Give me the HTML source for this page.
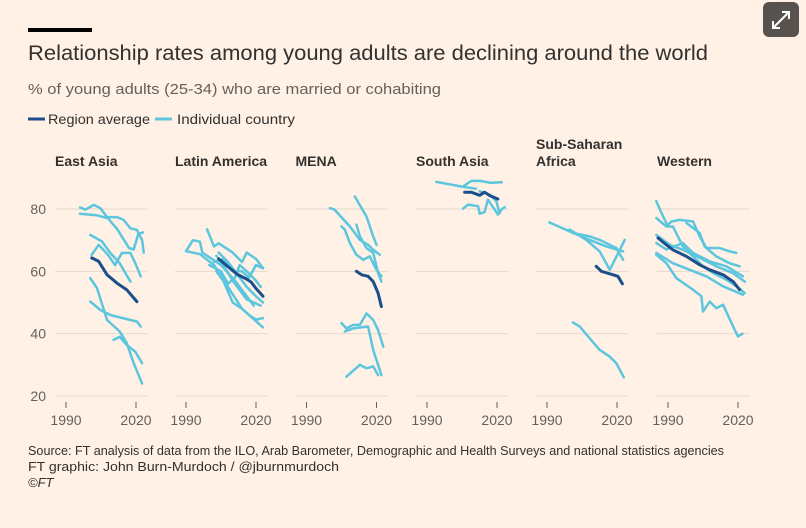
<!DOCTYPE html>
<html><head><meta charset="utf-8"><style>
html,body{margin:0;padding:0;background:#fff1e5;}
svg{display:block;font-family:"Liberation Sans",sans-serif;}
</style></head><body>
<svg id="chart" width="806" height="528" viewBox="0 0 806 528">
<rect x="0" y="0" width="806" height="528" fill="#fff1e5"/>
<rect x="28" y="28" width="64" height="4" fill="#000"/>
<text x="28" y="60" font-size="21" fill="#33302e" textLength="680" lengthAdjust="spacingAndGlyphs">Relationship rates among young adults are declining around the world</text>
<text x="28" y="94" font-size="15" fill="#66605c" textLength="413" lengthAdjust="spacingAndGlyphs">% of young adults (25-34) who are married or cohabiting</text>
<g>
<g>
<line x1="28" y1="119" x2="45" y2="119" stroke="#1c4e8b" stroke-width="3"/>
<text x="48" y="124" font-size="14" fill="#33302e" textLength="102" lengthAdjust="spacingAndGlyphs">Region average</text>
</g>
<g>
<line x1="155" y1="119" x2="172" y2="119" stroke="#5bc6de" stroke-width="3"/>
<text x="177" y="124" font-size="14" fill="#33302e" textLength="118" lengthAdjust="spacingAndGlyphs">Individual country</text>
</g>
</g>
<g id="panels"></g>
<g>
<text x="28" y="455" font-size="13" fill="#33302e" textLength="696" lengthAdjust="spacingAndGlyphs">Source: FT analysis of data from the ILO, Arab Barometer, Demographic and Health Surveys and national statistics agencies</text>
<text x="28" y="471" font-size="13" fill="#33302e" textLength="311" lengthAdjust="spacingAndGlyphs">FT graphic: John Burn-Murdoch / @jburnmurdoch</text>
<text x="28" y="487" font-size="13" font-style="italic" fill="#33302e">©FT</text>
</g>
<g>
<rect x="763" y="2" width="36" height="35" rx="6" fill="#57524d"/>
<path d="M773 28 L789 12 M782 12 L789 12 L789 19 M773 21 L773 28 L780 28" stroke="#fff" stroke-width="2" fill="none"/>
</g>
</svg>
<script>
const regions = ["East Asia","Latin America","MENA","South Asia","Sub-Saharan|Africa","Western"];
const yTicks = [20,40,60,80];
const xTicks = [1990,2020];
// each series: flat [year, value, year, value, ...]
const eastAsiaCountries = [
 [1996,80.5,1998.3,79.8,2001.9,81.3,2004.7,80.3,2007.6,77.4,2011.9,77.4,2014.7,76.5,2017.6,73.8,2020.4,73.3,2022.6,70,2023.3,66],
 [1996,78.5,2003,78,2008,77,2012,73.5,2017,67.5,2019,67,2021,72,2023,72.5],
 [2000.4,71.7,2005.4,69.6,2009,65.9,2013,62.6,2017.6,56.7],
 [2001,65.3,2004,68.5,2008,65.3,2011,62,2014,65.9,2017.6,65.9,2019.7,62.6,2022,58.4],
 [2000.4,57.8,2003.3,54.6,2007.6,44.4,2013,40.7,2016,37,2019,30.5,2022.6,24],
 [2000.4,50.3,2004.7,47.6,2009,46,2017.6,44.4,2020.4,43.9,2022,42.3],
 [2010.4,38,2013,39,2016,36.4,2019.7,34.2,2022.6,30.5]
];
const eastAsiaAvg = [2001,64.3,2004,63.2,2007.6,58.9,2011.9,56.2,2016,54.1,2020.4,50.3];
const latAmCountries = [
 [1990,66.5,1993,70,1996,69.5,1997,66,2005,62,2011,57,2016,52,2019,49],
 [1990,66.5,1996,65.5,2002,62,2008,55,2014,48,2020,44,2023,42],
 [1999,73.5,2002,68,2004,69,2010,66,2014,63,2016,66,2020,64,2023,61],
 [2000,62,2005,60,2008,56,2011,58,2013,62,2016,60,2020,57,2022,55],
 [2003,65,2006,62,2010,57,2013,54,2016,51,2019,50,2022,49],
 [2004,66,2008,63,2012,59,2016,55,2020,52,2023,50],
 [2003,60,2006,57,2010,50,2014,48,2017,46,2020,44.5,2023,45],
 [2002,63,2006,64,2010,60,2014,60,2017,58,2020,62,2023,61]
];
const latAmAvg = [2004,64,2008,61.5,2012,59,2016,57.5,2018,56.5,2020,54.5,2023,52];
const menaCountries = [
 [2000,80.3,2002,79.8,2008.6,74.4,2012.9,70.1,2016.4,68.5,2018.6,66.9,2021.4,65.3],
 [2010.7,84,2015.7,77.6,2018.6,71.2,2020,68.5],
 [2005,74.4,2006.4,73.4,2008.6,69.1,2011.4,65.3,2014.3,63.7,2017.1,64.8,2020,60.5,2022.1,58.4],
 [2011.4,75,2012.9,71.2,2015.7,67.5,2018.6,65.9,2020.7,59.5,2022.1,56.7],
 [2005,43.4,2007.1,41.7,2010,42.8,2012.9,42.8,2015.7,46.5,2018.6,44.4,2020.7,41.2,2022.9,35.8],
 [2006.4,40.7,2010,41.7,2016.4,42.3,2018.6,34.8,2022.1,26.7],
 [2007.1,26.2,2012.9,30,2015.7,28.9,2018.6,29.5,2020.7,26.7]
];
const menaAvg = [2011.4,60,2013.6,58.9,2016.4,58.4,2018.6,56.7,2020.7,53,2022.1,48.7];
const southAsiaCountries = [
 [1994,88.7,2005,87.2,2011,86.5],
 [2006,87.5,2009,89,2013,89,2017,88.4,2022,88.6],
 [2005.4,80.1,2007.6,81.4,2011.9,80.9,2012.6,78.5,2014.7,79,2016.1,83,2019,79.8,2020.4,78.2,2021.9,79.8,2023.3,80.6],
 [2012.6,85.7,2016.9,84.6,2019.7,82.5,2021.1,78.7]
];
const southAsiaAvg = [2006.1,85.4,2009,85.4,2012.6,84.4,2014.7,85.4,2016.9,84.3,2020.4,83.2];
const ssaCountries = [
 [1991,75.7,1999.7,72.8,2008.3,70.1,2015.4,68,2022.6,66.4],
 [1999.7,73.4,2006.9,70.1,2012.6,66.4,2016.9,60.5,2023.3,70.1],
 [2001,72.3,2008.3,71.2,2012.6,70.1,2019.7,67.5,2022.6,63.7],
 [2001.1,43.6,2004,42.3,2008.3,38.5,2012.6,34.8,2016.9,32.6,2019.7,30.5,2022.9,26]
];
const ssaAvg = [2011.1,61.6,2013.3,60,2016.9,59.2,2020.4,58.4,2022.3,56];
const westernCountries = [
 [1985,82.5,1987.9,77.6,1990,74.4,1992.1,74.4,1996.4,68,2000.7,64.8,2005,61.6,2009.3,59.5,2015,57.3,2019.3,55.2,2022.9,53],
 [1985,77.1,1989.3,74.4,1991.4,76,1995,76.5,2000.7,76,2003.6,71.2,2006.4,67.5,2012.1,67.5,2016.4,66.4,2019.3,65.9],
 [1997.9,75.5,2003.6,72.3,2005.7,68,2010.7,64.8,2016.4,62.6,2020.7,61.6],
 [1985,71.7,1990.7,68.5,1996.4,66.9,2003.6,64.3,2010.7,61.6,2017.9,59.4,2022.9,56.7],
 [1985,65.9,1992.1,62.6,1999.3,60.5,2006.4,58.4,2013.6,55.2,2022.1,52.5],
 [1985,69.1,1989.3,67,1996.4,69.1,2000.7,65.9,2007.9,63.2,2015,61.6,2022.1,58.4],
 [1985,65.3,1989.3,62.6,1993.6,57.8,2000.7,54.1,2004.3,52,2005,47.1,2007.9,50.3,2010.7,48.2,2013.6,49.3,2017.9,42.3,2020,39.1,2021.9,40]
];
const westernAvg = [1985.7,70.7,1989.3,68.5,1992.1,66.9,1997.9,64.8,2003.6,62.1,2007.9,60.5,2013.6,58.9,2017.9,56.7,2020.7,54.1];

const countrySets = [eastAsiaCountries, latAmCountries, menaCountries, southAsiaCountries, ssaCountries, westernCountries];
const avgSets = [eastAsiaAvg, latAmAvg, menaAvg, southAsiaAvg, ssaAvg, westernAvg];

const NS = "http://www.w3.org/2000/svg";
const root = document.getElementById("panels");
const panelStart = [66,186,306.5,427,547,668];
const pxPerYear = 70/30;
function yScale(v){ return 396 - (v-20)*(187/60); }
function xScale(i, yr){ return panelStart[i] + (yr-1990)*pxPerYear; }
function mk(tag, attrs){ const e=document.createElementNS(NS,tag); for(const k in attrs) e.setAttribute(k, attrs[k]); return e; }
function pathD(i, arr){ let d=""; for(let j=0;j<arr.length;j+=2){ d += (j?"L":"M") + xScale(i,arr[j]).toFixed(1) + " " + yScale(arr[j+1]).toFixed(1); } return d; }

const yAxis = mk("g",{});


root.appendChild(yAxis);
yTicks.forEach(t=>{
  const tx = mk("text",{x:46,y:yScale(t)+5,"font-size":14,fill:"#66605c","text-anchor":"end"});
  tx.textContent = t;
  
  
  yAxis.appendChild(tx);
});

regions.forEach((name,i)=>{
  const g = mk("g",{});
  
  
  root.appendChild(g);
  const lines = name.split("|");
  lines.forEach((ln,k)=>{
    const t = mk("text",{x:panelStart[i]-11,y:166-(lines.length-1-k)*17,"font-size":14,fill:"#33302e","font-weight":"bold"});
    t.textContent = ln;
    
    
    g.appendChild(t);
  });
  yTicks.forEach(t=>{
    const l = mk("line",{x1:xScale(i,1985.3),x2:xScale(i,2025),y1:yScale(t),y2:yScale(t),stroke:"#e6d9ce","stroke-width":1});
    
    
    g.appendChild(l);
  });
  xTicks.forEach(yr=>{
    const tk = mk("line",{x1:xScale(i,yr),x2:xScale(i,yr),y1:402,y2:408,stroke:"#66605c","stroke-width":1});
    
    
    g.appendChild(tk);
    const tl = mk("text",{x:xScale(i,yr),y:425,"font-size":14,fill:"#66605c","text-anchor":"middle"});
    tl.textContent = yr;
    
    
    g.appendChild(tl);
  });
  countrySets[i].forEach(arr=>{
    const p = mk("path",{d:pathD(i,arr),fill:"none",stroke:"#5bc6de","stroke-width":2.5,"stroke-linejoin":"round","stroke-linecap":"round"});
    
    
    g.appendChild(p);
  });
  const a = mk("path",{d:pathD(i,avgSets[i]),fill:"none",stroke:"#1c4e8b","stroke-width":3,"stroke-linejoin":"round","stroke-linecap":"round"});
  
  
  g.appendChild(a);
});
</script>
</body></html>
